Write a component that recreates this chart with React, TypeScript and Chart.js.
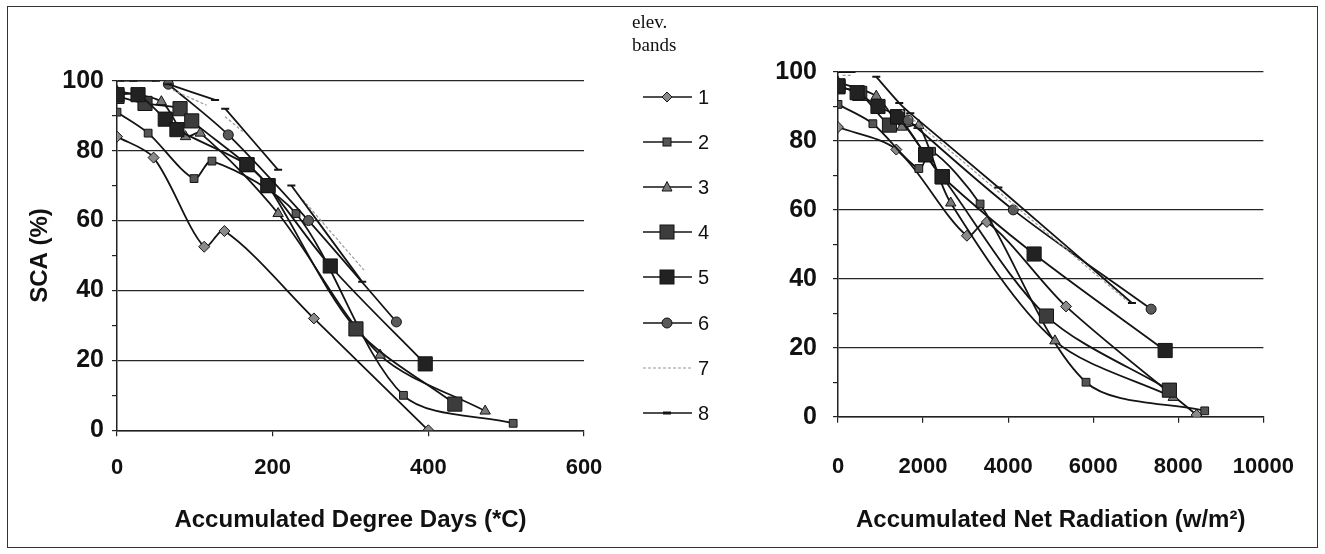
import React, { useEffect, useRef } from "react";
import { Chart, registerables } from "chart.js";
Chart.register(...registerables);

const bandLabels = ["1", "2", "3", "4", "5", "6", "7", "8"];
const legendTitle = ["elev.", "bands"];
const leftXTitle = "Accumulated Degree Days (*C)";
const rightXTitle = "Accumulated Net Radiation (w/m²)";
const yTitle = "SCA (%)";

// Left chart: accumulated degree days
const dd1X = [0, 47, 112, 138, 253, 400];
const dd1Y = [84, 78, 52.5, 57, 32, 0];
const dd2X = [0, 40, 99, 122, 230, 368, 509];
const dd2Y = [91, 85, 72, 77, 62, 10, 2];
const dd3X = [0, 57, 88, 107, 207, 338, 473];
const dd3Y = [97, 94, 84, 85, 62, 21.5, 5.5];
const dd4X = [0, 36, 81, 96, 167, 194, 307, 434];
const dd4Y = [95.5, 93.5, 92, 88.5, 76, 70, 29, 7.5];
const dd5X = [0, 27, 62, 77, 167, 194, 274, 396];
const dd5Y = [96, 96, 89, 86, 76, 70, 47, 19];
const dd6X = [66, 143, 246, 359];
const dd6Y = [99, 84.5, 60, 31];
const dd7X = [72, 115, 127, 139, 162, 200, 239, 319];
const dd7Y = [97.3, 93, null, 89.7, 85.4, null, 65.9, 45.4];
const dd8X = [4, 21, 50, 58, 66, 126, 132, 139, 207, 215, 224, 315];
const dd8Y = [100, 100, 100, null, 99, 94.5, null, 92, 74.5, null, 70, 42.5];

// Right chart: accumulated net radiation
const nr1X = [0, 1370, 3030, 3500, 5360, 8430];
const nr1Y = [84, 77.5, 52.5, 56.5, 32, 0.5];
const nr2X = [0, 820, 1900, 2200, 3340, 5830, 8620];
const nr2Y = [90.6, 85, 72, 77, 61.7, 10, 1.7];
const nr3X = [0, 900, 1500, 1900, 2650, 5100, 7880];
const nr3Y = [97, 93, 84, 84.5, 62, 22, 5.6];
const nr4X = [0, 510, 1210, 1400, 2060, 2450, 4900, 7790];
const nr4Y = [95.7, 93.8, 84.6, 87, 76, 69.6, 29.2, 7.7];
const nr5X = [0, 450, 940, 1400, 2060, 2450, 4610, 7690];
const nr5Y = [96, 94, 90, 87, 76, 69.6, 47.2, 19.2];
const nr6X = [1650, 4120, 7360];
const nr6Y = [86, 60, 31.2];
const nr7X = [110, 330, 900, 1500, 3800, 6800];
const nr7Y = [99, 99, null, 89, 65, 33.5];
const nr8X = [86, 318, 600, 900, 1440, 1700, 3770, 6910];
const nr8Y = [100, 100, null, 98.6, 91, 88, 66.5, 33];

const leftXs = [dd1X, dd2X, dd3X, dd4X, dd5X, dd6X, dd7X, dd8X];
const leftYs = [dd1Y, dd2Y, dd3Y, dd4Y, dd5Y, dd6Y, dd7Y, dd8Y];
const rightXs = [nr1X, nr2X, nr3X, nr4X, nr5X, nr6X, nr7X, nr8X];
const rightYs = [nr1Y, nr2Y, nr3Y, nr4Y, nr5Y, nr6Y, nr7Y, nr8Y];

const INK = "#141414";
const styles: any[] = [
  { pointStyle: "rectRot", radius: 5.5, bg: "#8a8a8a" },
  { pointStyle: "rect", radius: 5.5, bg: "#555" },
  { pointStyle: "triangle", radius: 6, bg: "#777" },
  { pointStyle: "rect", radius: 10, bg: "#3c3c3c" },
  { pointStyle: "rect", radius: 10, bg: "#222" },
  { pointStyle: "circle", radius: 5, bg: "#5a5a5a" },
  { pointStyle: false, radius: 0, bg: "#aaa", line: "#9a9a9a", dash: [3, 2], width: 1.2 },
  { pointStyle: "line", radius: 4, bg: INK },
];

function buildDatasets(xs: any[][], ys: any[][]) {
  return xs.map((xArr, i) => {
    const st = styles[i];
    return {
      label: bandLabels[i],
      data: xArr.map((x, j) => ({ x, y: ys[i][j] })),
      showLine: true,
      spanGaps: false,
      tension: 0.3,
      borderColor: st.line || INK,
      borderWidth: st.width || 1.8,
      borderDash: st.dash || [],
      pointStyle: st.pointStyle,
      pointRadius: st.radius,
      pointBackgroundColor: st.bg,
      pointBorderColor: INK,
      pointBorderWidth: st.pointStyle === "line" ? 2 : 1,
      order: 8 - i,
    };
  });
}

const FAMILY = "'Liberation Sans', Arial, sans-serif";
const yTickFont = { family: FAMILY, size: 25, weight: "bold" as const };
const xTickFont = { family: FAMILY, size: 22, weight: "bold" as const };
const titleFont = { family: FAMILY, size: 24, weight: "bold" as const };

function makeOptions(cfg: {
  xMax: number;
  xStep: number;
  yWidth: number;
  xHeight: number;
  padding: any;
  xTitle: string;
  yTitle?: string;
  yPad: number;
  xPad: number;
}) {
  return {
    animation: false,
    responsive: false,
    maintainAspectRatio: false,
    layout: { padding: cfg.padding },
    plugins: { legend: { display: false }, tooltip: { enabled: false } },
    scales: {
      x: {
        type: "linear",
        min: 0,
        max: cfg.xMax,
        afterFit: (s: any) => {
          s.height = cfg.xHeight;
        },
        ticks: {
          stepSize: cfg.xStep,
          padding: cfg.xPad,
          color: "#111",
          font: xTickFont,
          maxRotation: 0,
          callback: (v: any) => String(v),
        },
        grid: { drawOnChartArea: false, drawTicks: true, tickLength: 6, tickColor: "#222", lineWidth: 1.2 },
        border: { display: true, color: "#222", width: 1.5 },
        title: {
          display: true,
          text: cfg.xTitle,
          color: "#111",
          font: titleFont,
          padding: { top: 0, bottom: 19 },
        },
      },
      y: {
        type: "linear",
        min: 0,
        max: 100,
        afterFit: (s: any) => {
          s.width = cfg.yWidth;
        },
        ticks: {
          stepSize: 10,
          autoSkip: false,
          padding: cfg.yPad,
          color: "#111",
          font: yTickFont,
          callback: (v: any) => (v % 20 === 0 ? String(v) : ""),
        },
        grid: {
          color: (ctx: any) => (ctx.tick && ctx.tick.value % 20 === 0 ? "#262626" : "rgba(0,0,0,0)"),
          tickColor: "#222",
          tickLength: 5,
          lineWidth: 1.2,
        },
        border: { display: true, color: "#222", width: 1.5 },
        title: {
          display: !!cfg.yTitle,
          text: cfg.yTitle || "",
          color: "#111",
          font: titleFont,
          padding: { top: 26, bottom: 0 },
        },
      },
    },
  };
}

function ChartCanvas(props: { xs: any[][]; ys: any[][]; options: any; left: number; width: number }) {
  const ref = useRef<HTMLCanvasElement | null>(null);
  useEffect(() => {
    if (!ref.current) return;
    const chart = new Chart(ref.current, {
      type: "scatter",
      data: { datasets: buildDatasets(props.xs, props.ys) as any },
      options: props.options,
    });
    return () => chart.destroy();
  }, []);
  return (
    <canvas
      ref={ref}
      width={props.width}
      height={554}
      style={{ position: "absolute", left: props.left, top: 0, width: props.width, height: 554 }}
    />
  );
}

function LegendGlyph({ i }: { i: number }) {
  const cy = 10;
  const cx = 27;
  const st = styles[i];
  let marker: any = null;
  if (i === 0) marker = <polygon points={`${cx},${cy - 5} ${cx + 5},${cy} ${cx},${cy + 5} ${cx - 5},${cy}`} fill={st.bg} stroke={INK} />;
  if (i === 1) marker = <rect x={cx - 4} y={cy - 4} width={8} height={8} fill={st.bg} stroke={INK} />;
  if (i === 2) marker = <polygon points={`${cx},${cy - 5.5} ${cx + 5},${cy + 4} ${cx - 5},${cy + 4}`} fill={st.bg} stroke={INK} />;
  if (i === 3 || i === 4) marker = <rect x={cx - 7} y={cy - 7} width={14} height={14} fill={st.bg} stroke={INK} />;
  if (i === 5) marker = <circle cx={cx} cy={cy} r={5} fill={st.bg} stroke={INK} />;
  if (i === 7) marker = <line x1={cx - 4} y1={cy} x2={cx + 4} y2={cy} stroke={INK} strokeWidth={3} />;
  return (
    <svg width={56} height={20} style={{ position: "absolute", left: 0, top: -10 }}>
      <line
        x1={3}
        y1={cy}
        x2={52}
        y2={cy}
        stroke={st.line || INK}
        strokeWidth={st.width || 1.7}
        strokeDasharray={st.dash ? st.dash.join(",") : undefined}
      />
      {marker}
    </svg>
  );
}

export default function App() {
  const leftOpts = makeOptions({
    xMax: 600,
    xStep: 200,
    yWidth: 117,
    xHeight: 554 - 430.3,
    padding: { left: 0, top: 80.7, right: 630 - 584, bottom: 0 },
    xTitle: leftXTitle,
    yTitle: yTitle,
    yPad: 8,
    xPad: 18,
  });
  const rightOpts = makeOptions({
    xMax: 10000,
    xStep: 2000,
    yWidth: 138,
    xHeight: 554 - 416.7,
    padding: { left: 0, top: 72, right: 625 - 568, bottom: 0 },
    xTitle: rightXTitle,
    yPad: 16,
    xPad: 31,
  });
  return (
    <div style={{ position: "fixed", left: 0, top: 0, width: 1325, height: 554, background: "#fff", overflow: "hidden" }}>
      <ChartCanvas xs={leftXs} ys={leftYs} options={leftOpts} left={0} width={630} />
      <ChartCanvas xs={rightXs} ys={rightYs} options={rightOpts} left={700} width={625} />
      <div
        style={{
          position: "absolute",
          left: 7,
          top: 6,
          width: 1311,
          height: 542,
          border: "1.5px solid #333",
          boxSizing: "border-box",
          pointerEvents: "none",
        }}
      />
      <div
        style={{
          position: "absolute",
          left: 632,
          top: 10,
          fontFamily: "'Liberation Serif', 'Times New Roman', serif",
          fontSize: 19,
          lineHeight: "23px",
          color: "#111",
        }}
      >
        {legendTitle.map((t) => (
          <div key={t}>{t}</div>
        ))}
      </div>
      {bandLabels.map((lab, i) => (
        <div key={lab} style={{ position: "absolute", left: 640, top: 97 + i * 45.1, width: 90, height: 0 }}>
          <LegendGlyph i={i} />
          <span
            style={{
              position: "absolute",
              left: 58,
              top: -12,
              fontFamily: FAMILY,
              fontSize: 20,
              lineHeight: "24px",
              color: "#111",
            }}
          >
            {lab}
          </span>
        </div>
      ))}
    </div>
  );
}
